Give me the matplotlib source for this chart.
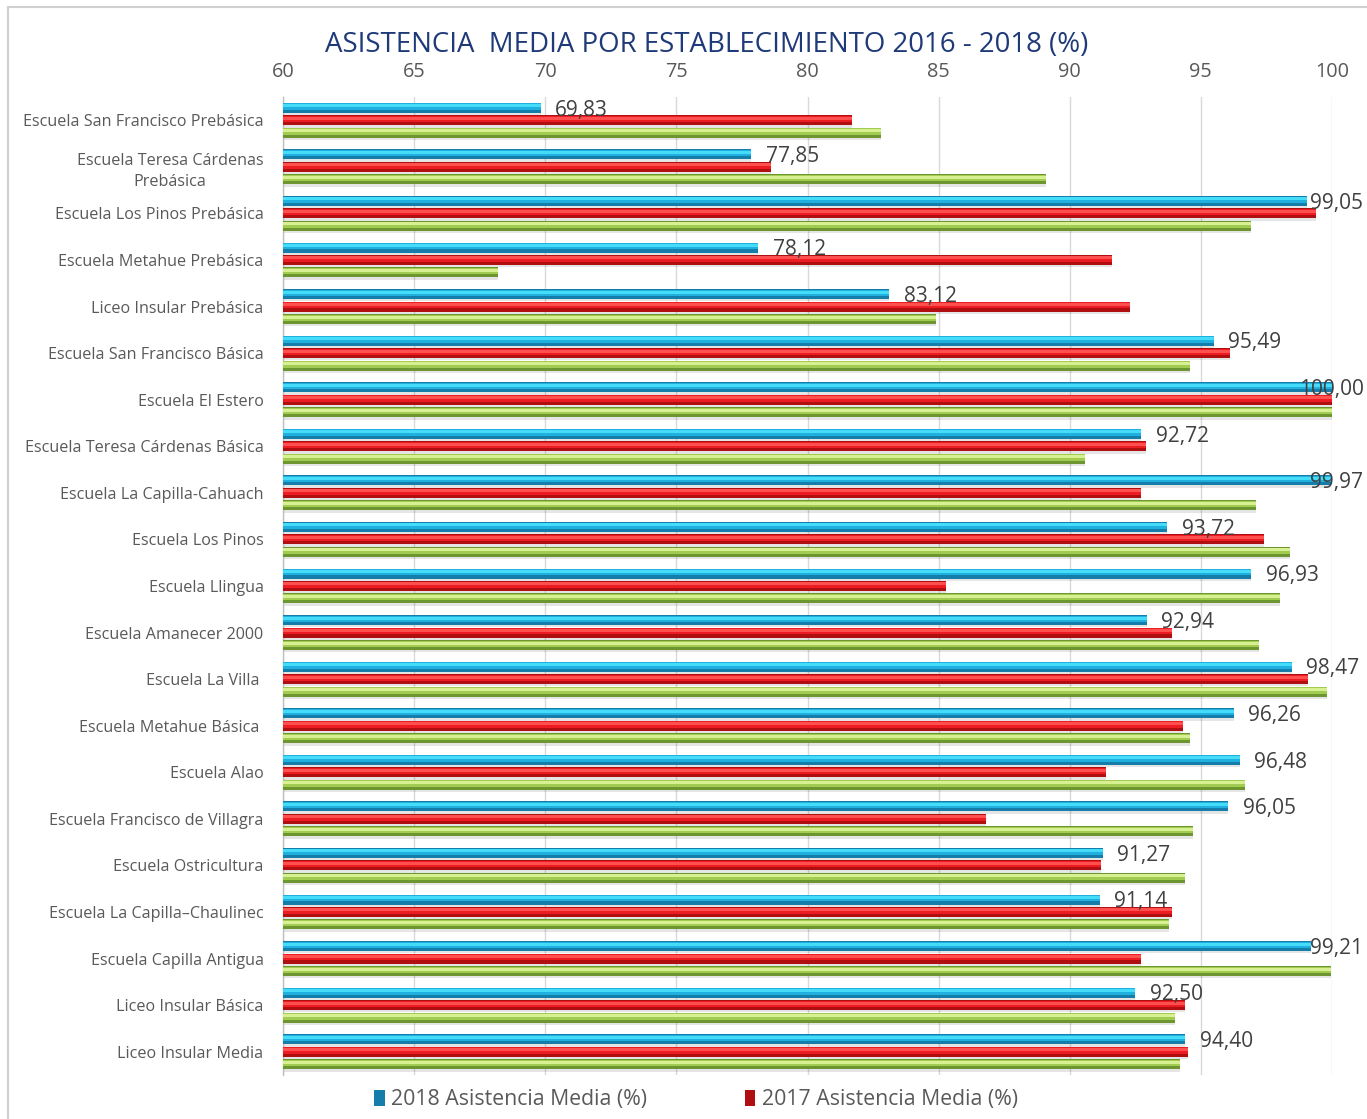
import matplotlib
matplotlib.use("Agg")
import matplotlib.pyplot as plt
import numpy as np
from matplotlib.patches import Rectangle

plt.rcParams['font.family'] = ['Open Sans', 'DejaVu Sans']

categories = [
    "Escuela San Francisco Prebásica",
    "Escuela Teresa Cárdenas\nPrebásica",
    "Escuela Los Pinos Prebásica",
    "Escuela Metahue Prebásica",
    "Liceo Insular Prebásica",
    "Escuela San Francisco Básica",
    "Escuela El Estero",
    "Escuela Teresa Cárdenas Básica",
    "Escuela La Capilla-Cahuach",
    "Escuela Los Pinos",
    "Escuela Llingua",
    "Escuela Amanecer 2000",
    "Escuela La Villa ",
    "Escuela Metahue Básica ",
    "Escuela Alao",
    "Escuela Francisco de Villagra",
    "Escuela Ostricultura",
    "Escuela La Capilla\u2013Chaulinec",
    "Escuela Capilla Antigua",
    "Liceo Insular Básica",
    "Liceo Insular Media",
]

asistencia_2018 = [69.83, 77.85, 99.05, 78.12, 83.12, 95.49, 100.00, 92.72, 99.97, 93.72,
                   96.93, 92.94, 98.47, 96.26, 96.48, 96.05, 91.27, 91.14, 99.21, 92.50, 94.40]
asistencia_2017 = [81.7, 78.6, 99.4, 91.6, 92.3, 96.1, 100.0, 92.9, 92.7, 97.4,
                   85.3, 93.9, 99.1, 94.3, 91.4, 86.8, 91.2, 93.9, 92.7, 94.4, 94.5]
asistencia_2016 = [82.8, 89.1, 96.9, 68.2, 84.9, 94.6, 100.0, 90.6, 97.1, 98.4,
                   98.0, 97.2, 99.8, 94.6, 96.7, 94.7, 94.4, 93.8, 99.95, 94.0, 94.2]

series_labels = ["2018 Asistencia Media (%)", "2017 Asistencia Media (%)", "2016 Asistencia Media (%)"]
xticks = [60, 65, 70, 75, 80, 85, 90, 95, 100]

W, H = 1367, 1119
fig = plt.figure(figsize=(W / 100, H / 100), dpi=100)
fig.patch.set_facecolor("white")

# chart frame
fig.add_artist(Rectangle((8 / W, -0.1), 1.2, 1 - 7 / H + 0.1, transform=fig.transFigure,
                         fill=False, edgecolor="#D0D0D0", linewidth=1.5))

ax = fig.add_axes([283 / W, 1 - 1075 / H, (1332 - 283) / W, (1075 - 97) / H])

y = np.arange(len(categories))
off = 0.268
bh = 0.215
base = 60

styles = [
    # (dark, main, light)
    ("#157DAA", "#1FB0E0", "#45DCFA"),
    ("#B00F12", "#EC1C22", "#FF5050"),
    ("#6E9630", "#A2CB52", "#D6F092"),
]
series = [asistencia_2018, asistencia_2017, asistencia_2016]
offsets = [-off, 0, off]
handles = []
for vals, o, (dark, main, light), lab in zip(series, offsets, styles, series_labels):
    v = np.array(vals) - base
    # soft shadow
    ax.barh(y + o + 0.05, v, height=bh, left=base, color="#000000", alpha=0.10, zorder=2)
    h = ax.barh(y + o, v, height=bh, left=base, color=dark, zorder=3, label=lab)
    ax.barh(y + o - bh * 0.12, v, height=bh * 0.62, left=base, color=main, zorder=4)
    ax.barh(y + o - bh * 0.2, v, height=bh * 0.3, left=base, color=light, zorder=5)
    handles.append(h)

ax.set_xlim(60, 100)
ax.set_ylim(len(categories) - 0.5, -0.5)
ax.xaxis.tick_top()
ax.set_xticks(xticks)
ax.set_xticklabels([str(t) for t in xticks], fontsize=14.3, color="#595959")
ax.tick_params(axis="x", length=0, pad=11)
ax.set_yticks(y)
ax.set_yticklabels(categories, fontsize=11.6, color="#595959", multialignment="center",
                   linespacing=1.45)
ax.tick_params(axis="y", length=0, pad=14)
ax.grid(axis="x", color="#D9D9D9", linewidth=1, zorder=0)
ax.set_axisbelow(True)
for s in ["top", "right", "bottom"]:
    ax.spines[s].set_visible(False)
ax.spines["left"].set_color("#BFBFBF")
ax.spines["left"].set_linewidth(1)

# data labels for 2018
for yi, v in zip(y, asistencia_2018):
    txt = f"{v:.2f}".replace(".", ",")
    if v > 98.5:
        ax.text(101.2, yi - off + 0.05, txt, ha="right", va="center", fontsize=15,
                color="#404040", zorder=7, clip_on=False)
    else:
        ax.text(v + 0.55, yi - off + 0.05, txt, ha="left", va="center", fontsize=15,
                color="#404040", zorder=7, clip_on=False)

fig.text(0.517, 1 - 45 / H, "ASISTENCIA  MEDIA POR ESTABLECIMIENTO 2016 - 2018 (%)",
         ha="center", va="center", fontsize=19.9, color="#1F3A78")

leg = fig.legend(handles[:2], series_labels[:2], loc="center", bbox_to_anchor=(0.509, 1 - 1100 / H),
                 ncol=2, frameon=False, fontsize=15.3, handlelength=0.5, handleheight=0.8,
                 handletextpad=0.3, columnspacing=4.6, labelcolor="#595959")

fig.savefig("out.png", dpi=100, facecolor="white")
